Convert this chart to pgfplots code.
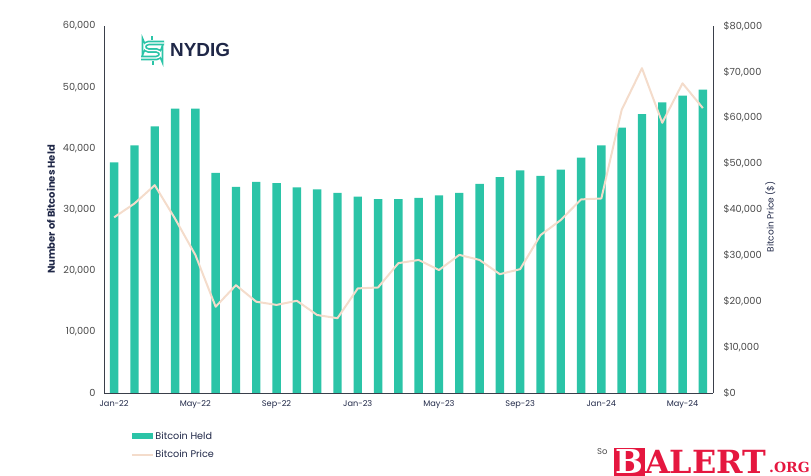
\documentclass[border=0pt]{standalone}
\usepackage{pgfplots}
\pgfplotsset{compat=1.18}
\usepackage{pgfplotstable}
\usepackage{fontspec}
\setmainfont{Poppins}
\newfontfamily\logofont{Liberation Sans}
\newfontfamily\wmfont{DejaVu Serif}
\definecolor{barcol}{HTML}{2BC4A7}
\definecolor{price}{HTML}{F4DCCB}
\definecolor{navy}{HTML}{1F2747}
\definecolor{tickgray}{HTML}{4A4A4A}
\definecolor{axiscol}{HTML}{3A3F4A}
\definecolor{wmred}{HTML}{E5173F}

\pgfplotstableread{
i held price
0 37700 38300
1 40500 41300
2 43600 45300
3 46500 38000
4 46500 30100
5 36000 18800
6 33700 23500
7 34500 19900
8 34300 19200
9 33600 20100
10 33300 17000
11 32700 16300
12 32100 22800
13 31700 23000
14 31700 28300
15 31900 29000
16 32300 26800
17 32700 30100
18 34200 29000
19 35300 25900
20 36400 27000
21 35500 34400
22 36500 37700
23 38500 42200
24 40500 42400
25 43400 61700
26 45600 70800
27 47500 58900
28 48600 67500
29 49600 62100
}\data

\begin{document}
\begin{tikzpicture}

\begin{axis}[
  scale only axis, width=609bp, height=367bp,
  xmin=-0.5, xmax=29.5, ymin=0, ymax=60000,
  axis x line*=bottom, axis y line*=left,
  axis line style={draw=axiscol, line width=0.8bp},
  major tick length=0pt,
  ytick={0,10000,20000,30000,40000,50000,60000},
  scaled y ticks=false,
  /pgf/number format/assume math mode=true,
  yticklabel style={font=\fontsize{9.8}{11}\selectfont, text=tickgray, xshift=-5bp,
    /pgf/number format/.cd, fixed, 1000 sep={,}},
  xtick={0,4,8,12,16,20,24,28},
  xticklabels={Jan-22,May-22,Sep-22,Jan-23,May-23,Sep-23,Jan-24,May-24},
  xticklabel style={font=\fontsize{8.2}{10}\selectfont, text=navy, yshift=-4bp},
  ylabel={Number of Bitcoines Held},
  ylabel style={at={(axis description cs:-0.087,0.5)}, anchor=center,
    font=\fontsize{10}{11}\selectfont\bfseries, text=navy},
  legend style={at={(axis description cs:0.044,-0.101)}, anchor=north west,
    draw=none, fill=none, inner sep=0pt, row sep=7bp,
    font=\fontsize{9.7}{11}\selectfont, text=navy,
    nodes={inner sep=1.5bp}},
  legend cell align=left,
]
\coordinate (O) at (rel axis cs:0,0);
\addplot[ybar, bar width=8.4bp, fill=barcol, draw=none,
  legend image code/.code={\fill[barcol] (0bp,-3.2bp) rectangle (21bp,3.2bp);}]
  table[x=i, y=held] {\data};
\addlegendentry{Bitcoin Held}
\addlegendimage{legend image code/.code={\draw[price, line width=2bp] (0bp,0bp) -- (21bp,0bp);}}
\addlegendentry{Bitcoin Price}
\end{axis}

\begin{axis}[
  scale only axis, width=609bp, height=367bp,
  xmin=-0.5, xmax=29.5, ymin=0, ymax=80000,
  hide x axis,
  axis y line*=right,
  axis line style={draw=axiscol, line width=0.8bp},
  major tick length=0pt,
  ytick={0,10000,20000,30000,40000,50000,60000,70000,80000},
  scaled y ticks=false,
  /pgf/number format/assume math mode=true,
  yticklabel={\$\pgfmathprintnumber[fixed,1000 sep={,}]{\tick}},
  yticklabel style={font=\fontsize{9.8}{11}\selectfont, text=tickgray, xshift=7bp},
  ylabel={Bitcoin Price (\$)},
  ylabel style={at={(axis description cs:1.094,0.48)}, anchor=center,
    font=\fontsize{9}{10}\selectfont, text=navy},
]
\addplot[price, line width=2bp, line join=round] table[x=i, y=price] {\data};
\end{axis}

\begin{scope}[shift={(O)}, x=1bp, y=1bp, xshift=-104bp, yshift=-83bp]
% logo
\draw[barcol, line width=1.7bp, double=white, double distance=1.3bp, rounded corners=4.5bp]
  (164,433) -- (144,433) -- (144,425.5) -- (161,425.5) -- (161,418) -- (141,418);
\draw[barcol, line width=1.6bp] (152,436) -- (152,440);
\draw[barcol, line width=1.6bp] (153,415) -- (153,411);
\node[anchor=west, inner sep=0pt, text=navy, font=\logofont\bfseries\fontsize{19}{20}\selectfont] at (170,426) {NYDIG};

% source + watermark
\node[anchor=west, inner sep=0pt, text=tickgray, font=\fontsize{8.5}{10}\selectfont] at (597,24) {So};
\fill[wmred] (614,0) rectangle (645,28);
\node[anchor=base west, inner sep=0pt, text=white, font=\wmfont\bfseries\fontsize{33}{33}\selectfont] at (615,2) {B};
\node[anchor=base west, inner sep=0pt, text=wmred, font=\wmfont\bfseries\fontsize{32}{32}\selectfont] at (645,2) {ALERT};
\node[anchor=base west, inner sep=0pt, text=wmred, font=\wmfont\bfseries\fontsize{14}{14}\selectfont] at (769,3) {.ORG};
\pgfresetboundingbox
\path[use as bounding box] (0,0) rectangle (811,476);
\end{scope}
\end{tikzpicture}
\end{document}
